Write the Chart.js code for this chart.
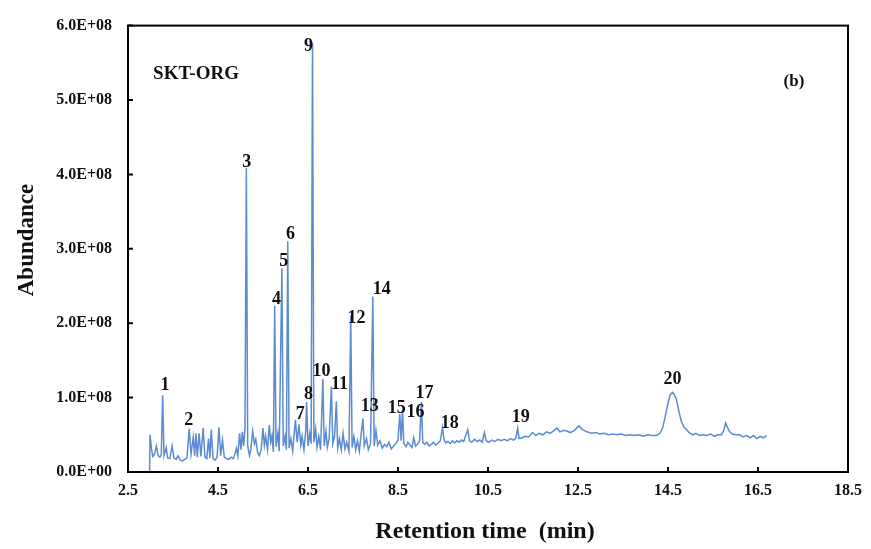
<!DOCTYPE html>
<html>
<head>
<meta charset="utf-8">
<script src="https://cdn.jsdelivr.net/npm/chart.js@4/dist/chart.umd.min.js"></script>
<style>
  body { margin: 0; background: #fff; }
  #wrap { width: 871px; height: 549px; position: relative; }
</style>
</head>
<body>
<div id="wrap"><canvas id="gcChart"></canvas></div>
<script>
// retention time (min) and abundance (x 1e6)
const retentionTime = [
  2.98, 2.99, 3.02, 3.05, 3.09, 3.13, 3.17, 3.21, 3.24, 3.27,
  3.30, 3.35, 3.38, 3.43, 3.48, 3.52, 3.57, 3.61, 3.66, 3.71,
  3.76, 3.81, 3.86, 3.90, 3.95, 3.98, 4.01, 4.04, 4.08, 4.12,
  4.17, 4.21, 4.25, 4.29, 4.32, 4.35, 4.39, 4.43, 4.48, 4.52,
  4.56, 4.60, 4.64, 4.69, 4.74, 4.79, 4.84, 4.88, 4.91, 4.94,
  4.98, 5.01, 5.04, 5.07, 5.10, 5.13, 5.16, 5.20, 5.23, 5.27,
  5.31, 5.34, 5.38, 5.42, 5.46, 5.50, 5.53, 5.56, 5.60, 5.64,
  5.67, 5.70, 5.73, 5.76, 5.79, 5.83, 5.86, 5.92, 5.95, 5.99,
  6.02, 6.05, 6.08, 6.12, 6.16, 6.22, 6.26, 6.30, 6.34, 6.37,
  6.41, 6.45, 6.47, 6.50, 6.54, 6.57, 6.60, 6.63, 6.67, 6.70,
  6.74, 6.78, 6.83, 6.86, 6.90, 6.93, 6.97, 7.02, 7.05, 7.09,
  7.13, 7.16, 7.20, 7.24, 7.28, 7.32, 7.36, 7.41, 7.45, 7.48,
  7.52, 7.56, 7.60, 7.64, 7.68, 7.72, 7.75, 7.80, 7.84, 7.89,
  7.94, 7.97, 8.01, 8.05, 8.10, 8.15, 8.20, 8.25, 8.30, 8.35,
  8.40, 8.45, 8.50, 8.54, 8.57, 8.60, 8.63, 8.68, 8.72, 8.77,
  8.81, 8.85, 8.89, 8.94, 8.98, 9.02, 9.05, 9.09, 9.14, 9.19,
  9.24, 9.29, 9.34, 9.39, 9.44, 9.49, 9.52, 9.56, 9.61, 9.66,
  9.71, 9.76, 9.81, 9.86, 9.91, 9.96, 10.05, 10.09, 10.14, 10.20,
  10.26, 10.32, 10.37, 10.42, 10.46, 10.52, 10.58, 10.65, 10.72, 10.79,
  10.86, 10.93, 11.00, 11.07, 11.12, 11.16, 11.19, 11.26, 11.33, 11.40,
  11.49, 11.56, 11.64, 11.72, 11.80, 11.88, 11.95, 12.03, 12.10, 12.18,
  12.25, 12.33, 12.42, 12.52, 12.60, 12.70, 12.80, 12.90, 12.98, 13.08,
  13.18, 13.28, 13.36, 13.46, 13.56, 13.66, 13.75, 13.85, 13.95, 14.05,
  14.15, 14.24, 14.32, 14.38, 14.44, 14.49, 14.55, 14.60, 14.65, 14.69,
  14.74, 14.80, 14.86, 14.91, 14.97, 15.05, 15.12, 15.20, 15.28, 15.36,
  15.45, 15.53, 15.61, 15.69, 15.74, 15.78, 15.82, 15.87, 15.93, 16.01,
  16.09, 16.17, 16.25, 16.33, 16.40, 16.47, 16.55, 16.62, 16.69
];
const abundanceM = [
  0, 50, 32, 21, 24, 35, 22, 20, 23, 103,
  22, 33, 19, 18, 35, 19, 17, 22, 16, 15,
  17, 19, 58, 24, 47, 22, 52, 20, 52, 21,
  59, 20, 18, 45, 19, 57, 18, 16, 20, 60,
  22, 43, 20, 18, 17, 20, 18, 25, 32, 22,
  52, 30, 54, 35, 59, 409, 35, 22, 30, 55,
  38, 44, 26, 22, 30, 59, 36, 48, 30, 63,
  40, 49, 27, 223, 34, 52, 28, 274, 35, 48,
  30, 310, 32, 45, 28, 70, 40, 64, 36, 48,
  30, 55, 94, 35, 52, 38, 577, 40, 58, 33,
  48, 30, 125, 35, 55, 33, 45, 115, 38, 48,
  95, 32, 45, 30, 52, 31, 40, 28, 210, 33,
  48, 30, 42, 28, 50, 72, 35, 45, 30, 38,
  236, 35, 56, 36, 42, 32, 37, 34, 40, 31,
  35, 38, 43, 78, 42, 83, 38, 34, 40, 36,
  33, 46, 35, 38, 42, 94, 40, 37, 40, 35,
  37, 40, 36, 39, 42, 60, 44, 39, 41, 38,
  42, 39, 42, 40, 43, 41, 57, 42, 40, 44,
  41, 43, 40, 53, 42, 40, 43, 41, 44, 42,
  44, 42, 45, 43, 46, 59, 45, 46, 48, 47,
  53, 49, 52, 50, 54, 52, 55, 59, 54, 56,
  55, 53, 56, 62, 57, 54, 52, 53, 51, 52,
  50, 51, 50, 51, 49, 50, 49, 50, 48, 50,
  49, 49, 52, 59, 75, 90, 104, 107, 103, 97,
  82, 67, 60, 57, 53, 50, 52, 49, 50, 49,
  51, 48, 50, 50, 56, 66, 60, 54, 51, 50,
  50, 47, 49, 46, 49, 45, 48, 46, 49
];

// peak numbers and where their labels sit (min, x 1e6)
const peakIds = ["1","2","3","4","5","6","7","8","9","10","11","12","13","14","15","16","17","18","19","20"];
const peakLabelRt = [3.32, 3.85, 5.14, 5.80, 5.96, 6.11, 6.33, 6.51, 6.51, 6.80, 7.20, 7.58, 7.87, 8.14, 8.47, 8.89, 9.09, 9.65, 11.23, 14.60];
const peakLabelAbund = [116, 69, 416, 232, 283, 320, 78, 104, 572, 135, 118, 206, 88, 246, 86, 80, 106, 66, 74, 124];

const xTickValues = [2.5, 4.5, 6.5, 8.5, 10.5, 12.5, 14.5, 16.5, 18.5];

const SERIF = '"Liberation Serif", "Times New Roman", serif';
const INK = "#111";

const formatE = (v) => {
  if (v === 0) return "0.0E+00";
  const exp = Math.floor(Math.log10(v) + 1e-9);
  const mant = (v / Math.pow(10, exp)).toFixed(1);
  return `${mant}E+${String(exp).padStart(2, "0")}`;
};

// frame, inward ticks, peak numbers and free texts
const decorPlugin = {
  id: "decor",
  afterDatasetsDraw(chart) {
    const { ctx, chartArea: a, scales: { x, y } } = chart;
    ctx.save();

    ctx.strokeStyle = "#000";
    ctx.lineWidth = 2;
    ctx.strokeRect(a.left, a.top, a.right - a.left, a.bottom - a.top);

    ctx.beginPath();
    y.ticks.forEach(t => {
      const py = y.getPixelForValue(t.value);
      ctx.moveTo(a.left, py);
      ctx.lineTo(a.left + 5, py);
    });
    x.ticks.forEach(t => {
      const px = x.getPixelForValue(t.value);
      ctx.moveTo(px, a.bottom);
      ctx.lineTo(px, a.bottom - 5);
    });
    ctx.stroke();

    ctx.fillStyle = INK;
    ctx.textAlign = "center";
    ctx.textBaseline = "middle";
    ctx.font = `bold 18px ${SERIF}`;
    peakIds.forEach((id, i) => {
      ctx.fillText(id, x.getPixelForValue(peakLabelRt[i]), y.getPixelForValue(peakLabelAbund[i] * 1e6));
    });

    ctx.font = `bold 19px ${SERIF}`;
    ctx.fillText("SKT-ORG", 196, 74);
    ctx.font = `bold 17px ${SERIF}`;
    ctx.fillText("(b)", 794, 82);

    // axis titles
    ctx.font = `bold 24px ${SERIF}`;
    ctx.fillText("Retention time  (min)", 485, 532);
    ctx.save();
    ctx.translate(27, 240);
    ctx.rotate(-Math.PI / 2);
    ctx.font = `bold 23px ${SERIF}`;
    ctx.fillText("Abundance", 0, 0);
    ctx.restore();

    ctx.restore();
  }
};

new Chart(document.getElementById("gcChart"), {
  type: "scatter",
  data: {
    datasets: [{
      label: "SKT-ORG",
      data: retentionTime.map((t, i) => ({ x: t, y: abundanceM[i] * 1e6 })),
      showLine: true,
      borderColor: "#5b8bd0",
      borderWidth: 1.5,
      pointRadius: 0,
      tension: 0
    }]
  },
  options: {
    responsive: true,
    maintainAspectRatio: false,
    animation: false,
    layout: { padding: { left: 0, right: 23, top: 22, bottom: 0 } },
    plugins: {
      legend: { display: false },
      tooltip: { enabled: false }
    },
    scales: {
      x: {
        type: "linear",
        min: 2.5,
        max: 18.5,
        afterBuildTicks: (scale) => { scale.ticks = xTickValues.map(v => ({ value: v })); },
        afterFit: (scale) => { scale.height = 77; },
        grid: { display: false, drawTicks: false },
        border: { display: false },
        ticks: {
          padding: 9,
          color: INK,
          font: { family: SERIF, size: 16, weight: "bold" },
          callback: (v) => v.toFixed(1),
          maxRotation: 0
        }
      },
      y: {
        min: 0,
        max: 6e8,
        afterFit: (scale) => { scale.width = 128; },
        grid: { display: false, drawTicks: false },
        border: { display: false },
        ticks: {
          stepSize: 1e8,
          padding: 16,
          color: INK,
          font: { family: SERIF, size: 16, weight: "bold" },
          callback: (v) => formatE(v)
        }
      }
    }
  },
  plugins: [decorPlugin]
});
</script>
</body>
</html>
